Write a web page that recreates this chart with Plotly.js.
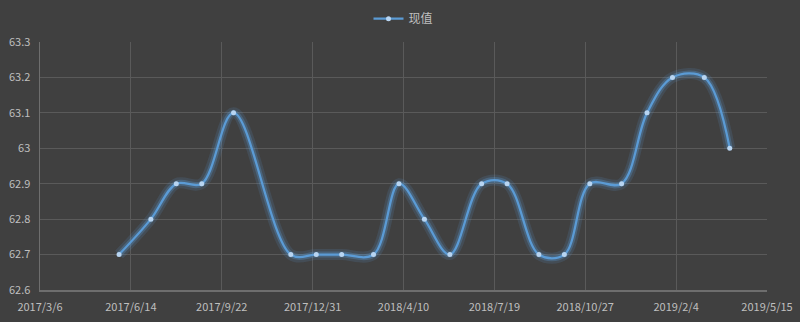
<!DOCTYPE html>
<html>
<head>
<meta charset="utf-8">
<script src="https://cdn.plot.ly/plotly-3.0.1.min.js"></script>
<style>html,body{margin:0;padding:0;background:#404040;}#chart{width:800px;height:322px;}</style>
</head>
<body>
<div id="chart"></div>
<script>
const dates = ["2017-06-01","2017-07-06","2017-08-03","2017-08-31","2017-10-05","2017-12-07","2018-01-04","2018-02-01","2018-03-08","2018-04-05","2018-05-03","2018-05-31","2018-07-05","2018-08-02","2018-09-06","2018-10-04","2018-11-01","2018-12-06","2019-01-03","2019-01-31","2019-03-07","2019-04-04"];
const values = [62.7,62.8,62.9,62.9,63.1,62.7,62.7,62.7,62.7,62.9,62.8,62.7,62.9,62.9,62.7,62.7,62.9,62.9,63.1,63.2,63.2,63.0];
const seriesName = "现值";
const xTickVals = ["2017-03-06","2017-06-14","2017-09-22","2017-12-31","2018-04-10","2018-07-19","2018-10-27","2019-02-04","2019-05-15"];
const xTickText = ["2017/3/6","2017/6/14","2017/9/22","2017/12/31","2018/4/10","2018/7/19","2018/10/27","2019/2/4","2019/5/15"];

const lineColor = "#5b9bd5";
const glow1 = {x: dates, y: values, type: "scatter", mode: "lines", showlegend: false, hoverinfo: "skip",
  line: {color: "rgba(91,155,213,0.15)", width: 11, shape: "spline", smoothing: 1}};
const glow2 = {x: dates, y: values, type: "scatter", mode: "lines", showlegend: false, hoverinfo: "skip",
  line: {color: "rgba(91,155,213,0.3)", width: 6, shape: "spline", smoothing: 1}};
const main = {x: dates, y: values, type: "scatter", mode: "lines+markers", name: seriesName,
  line: {color: lineColor, width: 2.25, shape: "spline", smoothing: 1},
  marker: {color: "#b8d5f2", size: 5}};

const layout = {
  width: 800, height: 322,
  paper_bgcolor: "#404040", plot_bgcolor: "#404040",
  margin: {l: 40, r: 33, t: 42, b: 32},
  font: {family: "'Noto Sans CJK SC', 'Liberation Sans', sans-serif", size: 11, color: "#bfbfbf"},
  showlegend: true,
  legend: {orientation: "h", x: 0.5, xanchor: "center", y: 0.942, yanchor: "middle", yref: "container",
           itemwidth: 30, font: {size: 12, color: "#bfbfbf"}, bgcolor: "rgba(0,0,0,0)"},
  xaxis: {type: "date", range: ["2017-03-06","2019-05-15"], tickvals: xTickVals, ticktext: xTickText,
          showgrid: true, gridcolor: "#5a5a5a", gridwidth: 1, zeroline: false,
          showline: true, linecolor: "#6e6e6e", linewidth: 1.5, ticks: "", ticklen: 0,
          ticklabelstandoff: 6,
          tickfont: {size: 11, color: "#bfbfbf"}, fixedrange: true},
  yaxis: {range: [62.6, 63.3], dtick: 0.1, tick0: 62.6, showgrid: true, gridcolor: "#5a5a5a", gridwidth: 1,
          zeroline: false, showline: true, linecolor: "#6e6e6e", linewidth: 1.5, ticks: "",
          ticklabelstandoff: 6,
          tickfont: {size: 11, color: "#bfbfbf"}, fixedrange: true}
};
Plotly.newPlot("chart", [glow1, glow2, main], layout, {displayModeBar: false, staticPlot: true});
</script>
</body>
</html>
